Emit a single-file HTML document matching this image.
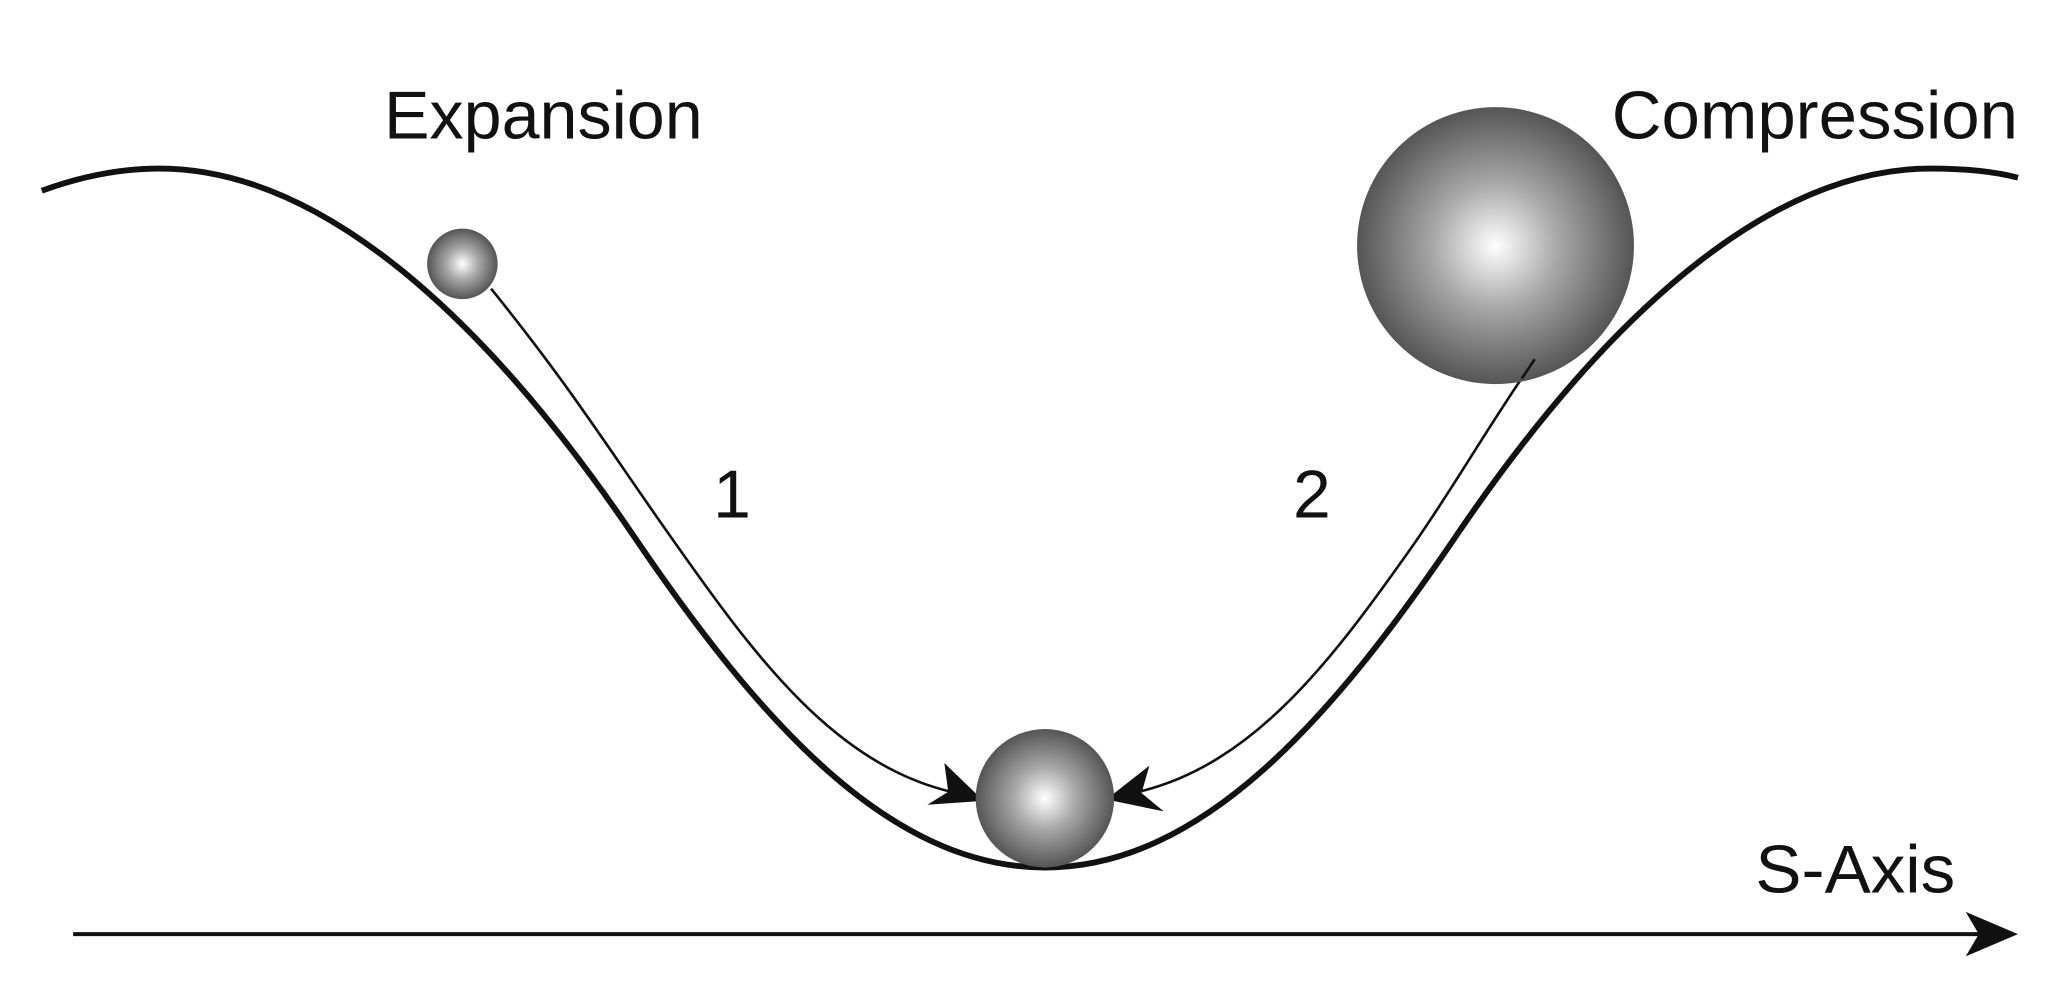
<!DOCTYPE html>
<html><head><meta charset="utf-8"><style>
html,body{margin:0;padding:0;background:#fff;}
svg{display:block;}
text{font-family:"Liberation Sans",sans-serif;fill:#111;}
</style></head><body>
<svg width="2048" height="989" viewBox="0 0 1568 757" preserveAspectRatio="none" xmlns="http://www.w3.org/2000/svg">
<defs>
<radialGradient id="g" cx="50%" cy="50%" r="50%">
<stop offset="0" stop-color="#ffffff"/>
<stop offset="0.45" stop-color="#a8a8a8"/>
<stop offset="1" stop-color="#555555"/>
</radialGradient>
</defs>
<path d="M32,146 C62,135 92,129 122,129 C260,129 390,270 485,410 C580,550 680,664 800,664 C920,664 1020,550 1115,410 C1210,270 1340,129 1478,129 C1508,129 1530,132 1545,136" fill="none" stroke="#111" stroke-width="4.5"/>
<path d="M376,221 C440,300 470,350 520,420 C580,505 640,585 728,606" fill="none" stroke="#111" stroke-width="2"/>
<path d="M753,613 L710,616 L726,606 L723,584 Z" fill="#111"/>
<path d="M1175,275 C1140,325 1110,378 1080,420 C1020,505 960,585 872,606" fill="none" stroke="#111" stroke-width="2"/>
<path d="M847,612 L891,621 L874,607 L880,586 Z" fill="#111"/>
<circle cx="354" cy="202" r="27" fill="url(#g)"/>
<circle cx="1145" cy="188" r="106" fill="url(#g)"/>
<circle cx="800" cy="611" r="53" fill="url(#g)"/>
<line x1="1175" y1="275" x2="1165" y2="290" stroke="#111" stroke-width="2"/>
<line x1="56" y1="715" x2="1515" y2="715" stroke="#111" stroke-width="3"/>
<path d="M1545,715 L1505,698 L1515,715 L1505,732 Z" fill="#111"/>
<text x="294" y="106" font-size="52" textLength="244" lengthAdjust="spacingAndGlyphs">Expansion</text>
<text x="1234" y="106" font-size="52" textLength="311" lengthAdjust="spacingAndGlyphs">Compression</text>
<text x="546" y="396" font-size="52">1</text>
<text x="990" y="396" font-size="52">2</text>
<text x="1344" y="683" font-size="52" textLength="153" lengthAdjust="spacingAndGlyphs">S-Axis</text>
</svg>
</body></html>
